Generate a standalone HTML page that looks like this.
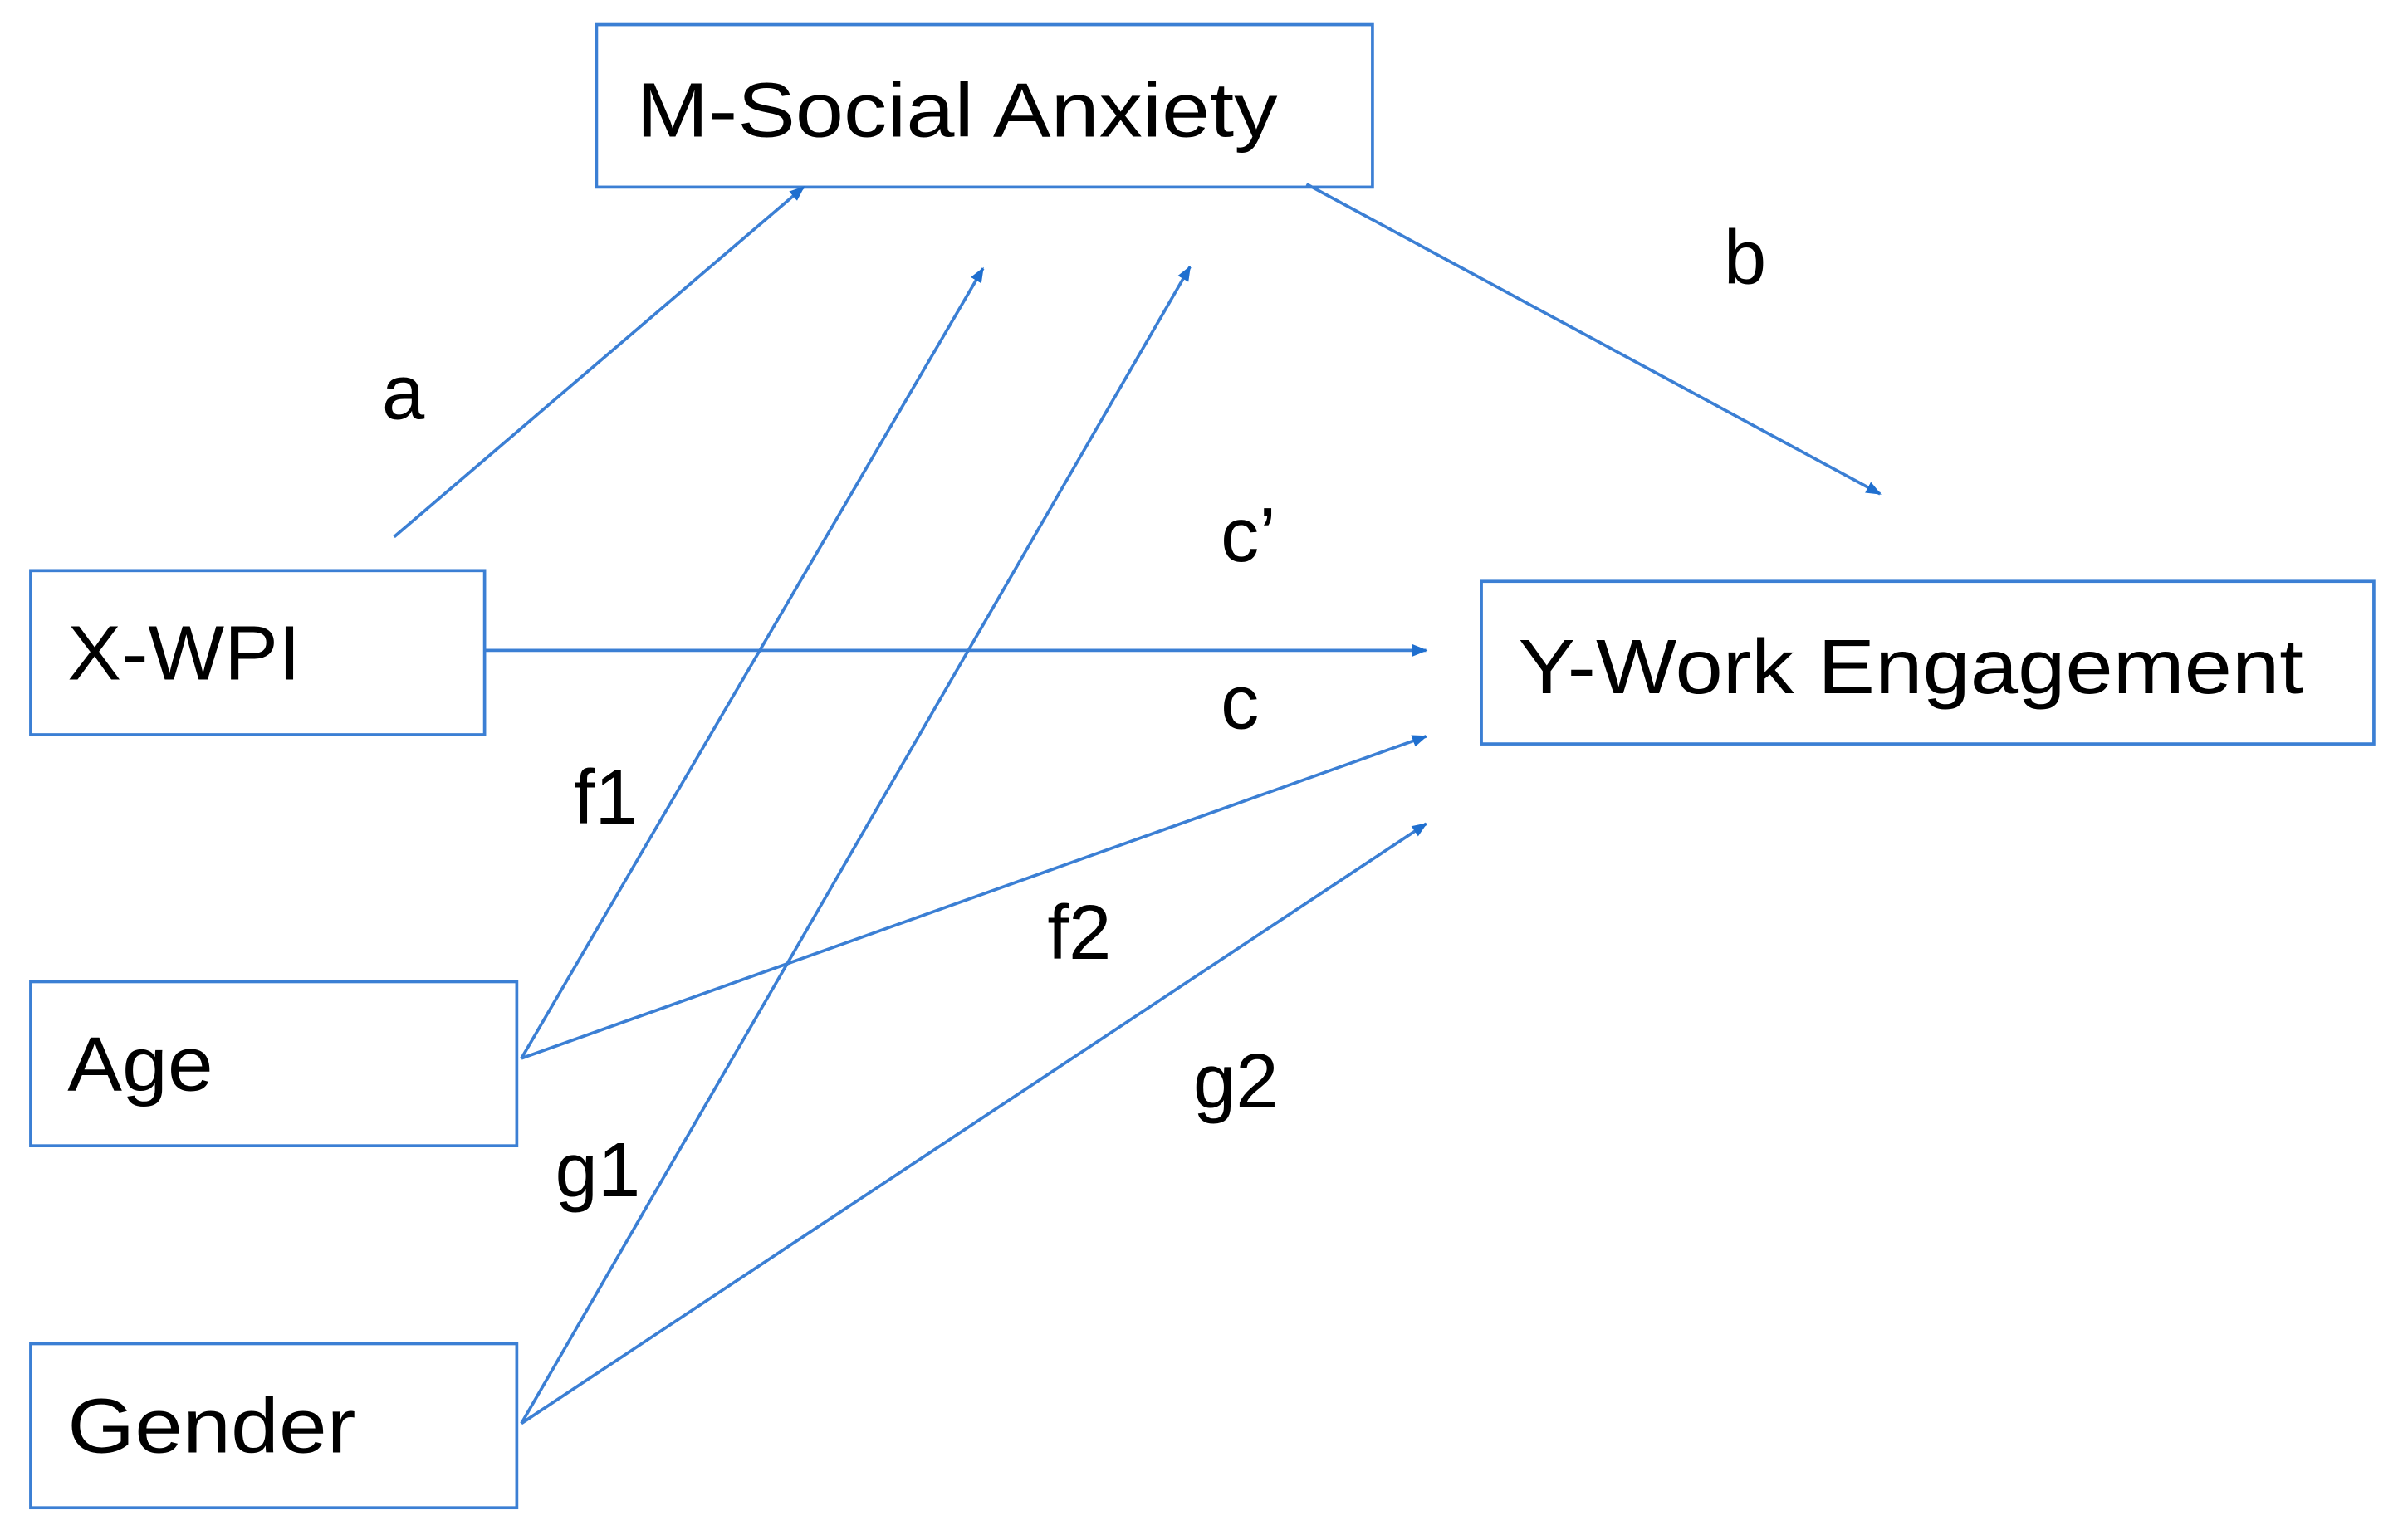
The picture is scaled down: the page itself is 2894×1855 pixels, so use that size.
<!DOCTYPE html>
<html><head><meta charset="utf-8"><style>
html,body{margin:0;padding:0;background:#fff;}
svg{display:block;}
text{font-family:"Liberation Sans",sans-serif;fill:#000;}
</style></head><body>
<svg width="2894" height="1855" viewBox="0 0 1567 1004" preserveAspectRatio="none" xmlns="http://www.w3.org/2000/svg">
<defs>
<marker id="ah" markerWidth="10" markerHeight="8" refX="9" refY="4" orient="auto" markerUnits="userSpaceOnUse">
<path d="M0,0 L10,4 L0,8 z" fill="#1f6fcf"/>
</marker>
</defs>
<g fill="none" stroke="#3b7fd4" stroke-width="2">
<rect x="389" y="16" width="506" height="106"/>
<rect x="20" y="372" width="296" height="107"/>
<rect x="966" y="379" width="582" height="106"/>
<rect x="20" y="640" width="317" height="107"/>
<rect x="20" y="876" width="317" height="107"/>
</g>
<g stroke="#3b7fd4" stroke-width="2" marker-end="url(#ah)" fill="none">
<line x1="257" y1="350" x2="524" y2="122"/>
<line x1="340" y1="690" x2="641" y2="175"/>
<line x1="340" y1="928" x2="776" y2="174"/>
<line x1="852" y1="120" x2="1226" y2="322"/>
<line x1="316" y1="424" x2="930" y2="424"/>
<line x1="340" y1="690" x2="930" y2="480"/>
<line x1="340" y1="928" x2="930" y2="537"/>
</g>
<g font-size="50">
<text x="415" y="89" textLength="418" lengthAdjust="spacingAndGlyphs">M-Social Anxiety</text>
<text x="44" y="443" textLength="152" lengthAdjust="spacingAndGlyphs">X-WPI</text>
<text x="990" y="452" textLength="512" lengthAdjust="spacingAndGlyphs">Y-Work Engagement</text>
<text x="44" y="711" textLength="95" lengthAdjust="spacingAndGlyphs">Age</text>
<text x="44" y="947" textLength="188" lengthAdjust="spacingAndGlyphs">Gender</text>
<text x="249" y="273">a</text>
<text x="1124" y="185">b</text>
<text x="796" y="366">c’</text>
<text x="796" y="475">c</text>
<text x="374" y="537">f1</text>
<text x="683" y="625">f2</text>
<text x="362" y="780">g1</text>
<text x="778" y="722">g2</text>
</g>
</svg>
</body></html>
